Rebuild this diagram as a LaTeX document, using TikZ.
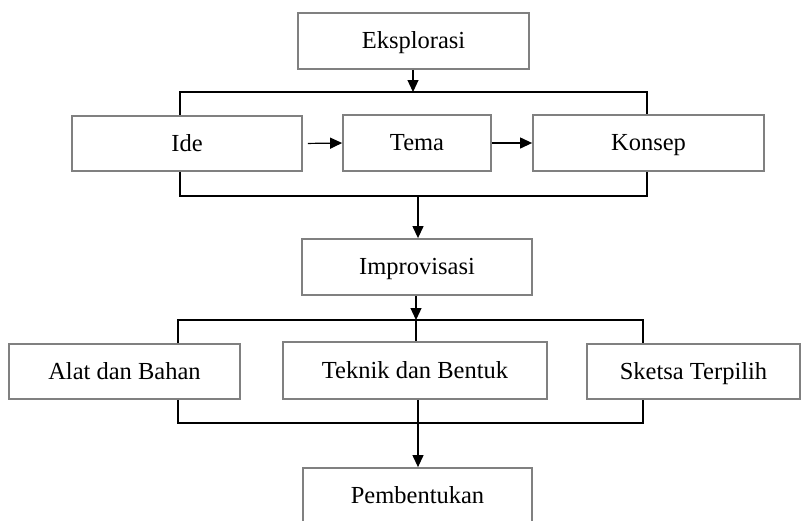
\documentclass[tikz,border=0pt]{standalone}
\usepackage{fontspec}
\setmainfont{Liberation Serif}
\usetikzlibrary{arrows.meta}
\begin{document}
\begin{tikzpicture}[x=1pt,y=-1pt,
  box/.style={draw=black!50,line width=1.8pt,fill=white,inner sep=0pt,
    text height=16pt,text depth=1pt,font=\fontsize{24.5}{28}\selectfont},
  conn/.style={draw=black,line width=1.2pt},
  arr/.style={conn,-{Triangle[length=12pt,width=11pt]}}]
\useasboundingbox (0,0) rectangle (805,520);
% nodes
\node[box,minimum width=231pt,minimum height=56pt] (eks) at (413.5,41) {Eksplorasi};
\node[box,minimum width=230pt,minimum height=55pt] (ide) at (187,143.5) {Ide};
\node[box,minimum width=148pt,minimum height=56pt] (tema) at (417,143) {Tema};
\node[box,minimum width=231pt,minimum height=56pt] (konsep) at (648.5,143) {Konsep};
\node[box,minimum width=230pt,minimum height=56pt] (impro) at (417,267) {Improvisasi};
\node[box,minimum width=231pt,minimum height=55pt] (alat) at (124.5,371.5) {Alat dan Bahan};
\node[box,minimum width=264pt,minimum height=57pt] (teknik) at (415,370.5) {Teknik dan Bentuk};
\node[box,minimum width=213pt,minimum height=55pt] (sketsa) at (693.5,371.5) {Sketsa Terpilih};
\node[box,minimum width=229pt,minimum height=56pt] (pemb) at (417.5,496) {Pembentukan};
% coordinates
\coordinate (b1) at (413,92);
\coordinate (b2) at (418,196);
\coordinate (b3) at (416,320);
\coordinate (b4) at (418,423);
% first group
\draw[arr] (eks.south -| b1) -- (b1);
\draw[conn] ([xshift=-7pt]ide.north) |- (b1) -| ([xshift=-1.5pt]konsep.north);
\draw[conn] ([xshift=-7pt]ide.south) |- (b2) -| ([xshift=-1.5pt]konsep.south);
\draw[arr,shorten <=5pt] (ide.east) -- (tema.west);
\draw[arr] (tema.east) -- (konsep.west);
\draw[arr] (b2) -- (impro.north -| b2);
% second group
\draw[arr] (impro.south -| b3) -- (b3);
\draw[conn] ([xshift=53.5pt]alat.north) |- (b3) -| ([xshift=-50.5pt]sketsa.north);
\draw[conn] (b3) -- (teknik.north -| b3);
\draw[conn] ([xshift=53.5pt]alat.south) |- (b4) -| ([xshift=-50.5pt]sketsa.south);
\draw[conn] (teknik.south -| b4) -- (b4);
\draw[arr] (b4) -- (pemb.north -| b4);
\end{tikzpicture}
\end{document}
